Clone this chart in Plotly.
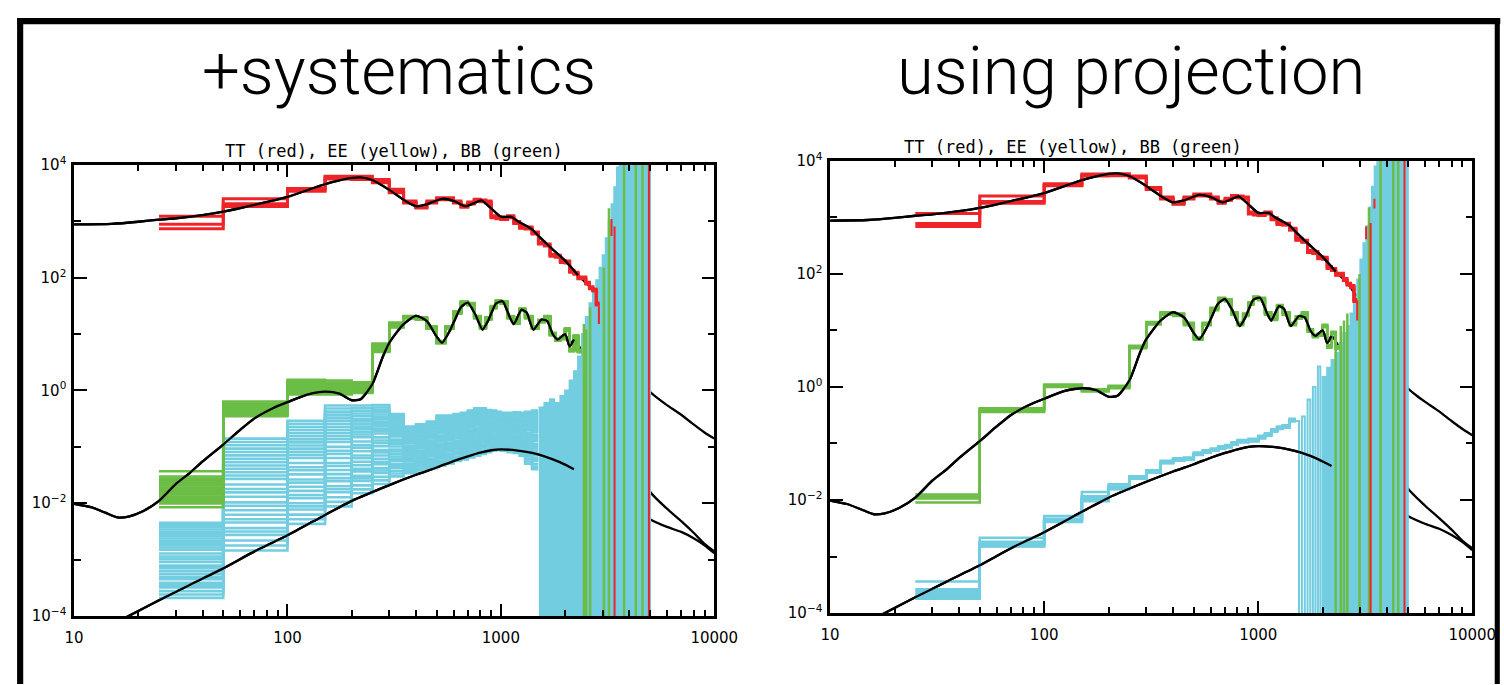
import plotly.graph_objects as go

W, H = 1504, 685          # size of the picture
S = 0.979                 # picture pixels per page pixel (measured from earlier renders)
OFF = 8                   # default body margin of the page around the figure
FW, FH = 1528, 684        # figure size in page pixels

# ---------------- data ----------------
ell_edges = [25, 50, 100, 150, 200, 250, 300, 350, 400, 450, 500, 550, 600, 650, 700,
             750, 800, 850, 900, 950, 1000, 1075, 1150, 1225, 1300, 1400, 1500, 1600,
             1700, 1800, 1900, 2000, 2100, 2200, 2300, 2400, 2500, 2600, 2700, 2800, 2900]

tt_binned = [850, 2050, 3800, 5650, 5700, 5200, 3250, 2200, 1780, 2200, 2500, 2500, 2200,
             1850, 2100, 2350, 2300, 2200, 1200, 1150, 1120, 1200, 950, 780, 760, 620, 410,
             380, 250, 240, 193, 190, 130, 120, 99, 99, 80, 66, 60, 34]
ee_binned = [0.0115, 0.39, 1.05, 0.87, 1.0, 5.1, 13.4, 20, 19, 13, 7.2, 13, 24, 36, 34, 20,
             13, 19, 30, 38, 36, 20, 16, 27, 20, 13, 17, 20, 10, 8, 8.5, 12, 5.2, 9, 5]
bb_binned_proj = [1.8e-4, 1.8e-3, 4.6e-3, 0.0115, 0.017, 0.025, 0.032, 0.047, 0.052, 0.054,
                  0.066, 0.072, 0.078, 0.085, 0.09, 0.10, 0.11, 0.11, 0.115, 0.115, 0.13,
                  0.145, 0.17, 0.19, 0.2, 0.26]

# spread of the realisations, +systematics panel
tt_sys_lo = [740, 1830, 3400, 5600, 5500, 4800, 3200]
tt_sys_hi = [1230, 2500, 3800, 6300, 6300, 5500, 3700]
ee_sys_lo = [0.0085, 0.35, 0.85, 0.85, 0.9, 4.8, 13]
ee_sys_hi = [0.037, 0.64, 1.55, 1.5, 1.4, 6.8, 16]
bb_sys_lo = [2.1e-4, 1.45e-3, 4.3e-3, 8.8e-3, 0.015, 0.022, 0.030, 0.034, 0.038, 0.042,
             0.047, 0.051, 0.056, 0.060, 0.065, 0.070, 0.075, 0.080, 0.085, 0.088, 0.085,
             0.080, 0.078, 0.070, 0.050, 0.040]
bb_sys_hi = [4.5e-3, 0.14, 0.29, 0.54, 0.54, 0.55, 0.38, 0.23, 0.25, 0.28, 0.36, 0.36, 0.38,
             0.40, 0.44, 0.48, 0.48, 0.45, 0.44, 0.42, 0.40, 0.40, 0.41, 0.40, 0.42, 0.44]

# spread of the realisations, projection panel
tt_proj_lo = [690, 1780, 3650]
tt_proj_hi = [1170, 2400, 3950]
ee_proj_lo = [0.009, 0.36]
ee_proj_hi = [0.0125, 0.42]
bb_proj_lo = [1.8e-4, 1.5e-3, 4.1e-3, 9.5e-3, 0.0155]
bb_proj_hi = [3.6e-4, 2.15e-3, 5.2e-3, 0.0138, 0.019]

tt_scatter = 1.04
ee_scatter = 1.05
bb_scatter = 1.05

# relative position of each realisation inside the spread (0 = lowest, 1 = highest)
tt_levels_sys = [1.0, 0.35, 0.0]
ee_levels_sys = [1.0, 0.85, 0.8, 0.75, 0.7, 0.65, 0.6, 0.55, 0.5, 0.45, 0.4, 0.35, 0.3,
                 0.25, 0.2, 0.15, 0.1, 0.0]
bb_levels_sys = [1.0, 0.97, 0.94, 0.91, 0.88, 0.85, 0.82, 0.79, 0.76, 0.73, 0.70, 0.67,
                 0.64, 0.59, 0.55, 0.52, 0.48, 0.43, 0.40, 0.36, 0.32, 0.28, 0.25, 0.20,
                 0.17, 0.14, 0.09, 0.045, 0.0]
tt_levels_proj = [1.0, 0.23, 0.0]
ee_levels_proj = [1.0, 0.75, 0.5, 0.0]
bb_levels_proj = [1.0, 0.55, 0.45, 0.35, 0.25, 0.15, 0.05, 0.0]

# noise-dominated high-ell region: upper envelope of BB realisations per 100-wide chunk
noise_chunk_start = [1500, 1600, 1700, 1800, 1900, 2000, 2100, 2200, 2300, 2400, 2500, 2600,
                     2700, 2800, 2900, 3000, 3100, 3200, 3300, 3400, 3500, 3600, 3700, 3800,
                     3900, 4000, 4100, 4200, 4300, 4400, 4500, 4600, 4700, 4800, 4900]
bb_noise_top_sys = [0.5, 0.6, 0.7, 0.6, 0.8, 1.0, 1.5, 2.2, 4, 10, 20, 35, 60, 90, 150, 250,
                    500, 1000, 2000, 4000, 9000, 1e9, 1e9, 1e9, 1e9, 1e9, 1e9, 1e9, 1e9,
                    1e9, 1e9, 1e9, 1e9, 1e9, 1e9]
bb_noise_top_proj = [0.25, 0.3, 0.6, 1.0, 2.3, 1.5, 2.2, 3, 4, 6, 9, 12, 20, 40, 80, 180,
                     350, 700, 1500, 3500, 8000, 1e9, 1e9, 1e9, 1e9, 1e9, 1e9, 1e9, 1e9,
                     1e9, 1e9, 1e9, 1e9, 1e9, 1e9]
noise_dense_from_sys = 1500     # above this ell the noisy bins are 25 wide, below 50
noise_dense_from_proj = 2000

# individual spikes (ell, top, bottom; bottom 0 = runs off the bottom)
ee_spike_l_sys = [2450, 2510, 2620, 3040, 3210, 3780, 4290, 4610]
ee_spike_top_sys = [15, 12, 30, 150, 1700, 1e9, 1e9, 1e9]
ee_spike_bot_sys = [0, 0, 0, 0, 0, 0, 0, 0]
tt_spike_l_sys = [2880, 3300, 3410, 4940]
tt_spike_top_sys = [31, 1100, 810, 1e9]
tt_spike_bot_sys = [15, 550, 0, 0]
ee_spike_l_proj = [2300, 2430, 2515, 2608, 2974, 3290, 3728, 4273, 4508]
ee_spike_top_proj = [5, 12, 15, 20, 100, 1500, 1e9, 1e9, 1e9]
ee_spike_bot_proj = [0, 0, 0, 0, 0, 0, 0, 0, 0]
tt_spike_l_proj = [2900, 3190, 3350, 3490, 4823]
tt_spike_top_proj = [34, 690, 800, 2140, 1e9]
tt_spike_bot_proj = [15, 410, 0, 1440, 0]

# theory curves
tt_th_l = [10, 15, 20, 25, 30, 40, 50, 70, 100, 130, 160, 200, 220, 250, 300, 350, 400, 450,
           530, 600, 680, 750, 810, 900, 1000, 1120, 1200, 1300, 1400, 1500, 1700, 2000,
           2300, 2600, 3000, 3500, 4000, 4500, 5000, 5500, 6000, 7000, 8000, 9000, 10000]
tt_th = [880, 900, 980, 1070, 1130, 1290, 1480, 1950, 2700, 3800, 4900, 5900, 6000, 5400,
         3600, 2400, 1850, 2000, 2500, 2300, 1850, 2100, 2350, 1700, 1200, 1200, 1000, 850,
         720, 550, 350, 200, 110, 70, 30, 8, 3, 1.6, 0.95, 0.7, 0.55, 0.37, 0.25, 0.18, 0.14]
ee_th_l = [10, 12, 14, 16, 18, 21, 25, 30, 35, 40, 50, 60, 70, 85, 100, 125, 150, 175, 200,
           220, 250, 280, 300, 350, 400, 450, 500, 530, 580, 650, 700, 760, 820, 870, 950,
           1020, 1100, 1150, 1250, 1320, 1420, 1550, 1650, 1750, 1850, 2000, 2100, 2200,
           2400, 2600, 3000, 3500, 4000, 4500, 5000, 6000, 7000, 8000, 9000, 10000]
ee_th = [0.0098, 0.0085, 0.0068, 0.0056, 0.0058, 0.0072, 0.011, 0.022, 0.035, 0.055, 0.11,
         0.2, 0.32, 0.48, 0.62, 0.85, 0.95, 0.88, 0.67, 0.7, 1.3, 4, 7, 15, 21, 17, 9, 7, 12,
         30, 36, 22, 12, 17, 35, 38, 20, 15, 27, 24, 12, 18, 17, 10, 8, 10, 6, 8, 5, 3.5,
         1.5, 0.4, 0.12, 0.04, 0.016, 0.008, 0.0048, 0.003, 0.0019, 0.0014]
bb_th_l = [15, 18, 25, 35, 50, 70, 100, 150, 200, 300, 400, 500, 600, 700, 800, 900, 1000,
           1200, 1400, 1600, 1900, 2200, 2600, 3000, 4000, 5000, 6000, 7000, 8000, 9000, 10000]
bb_th = [7.2e-5, 1.0e-4, 1.9e-4, 3.6e-4, 7e-4, 1.4e-3, 2.7e-3, 6.2e-3, 0.011, 0.021, 0.032,
         0.043, 0.056, 0.068, 0.079, 0.087, 0.09, 0.086, 0.078, 0.068, 0.053, 0.04, 0.028,
         0.02, 0.01, 0.0052, 0.0038, 0.0031, 0.0024, 0.0018, 0.0013]

x_ticks = [10, 100, 1000, 10000]
x_ticktext = ["10", "100", "1000", "10000"]
x_minor = [20, 30, 40, 50, 60, 70, 80, 90, 200, 300, 400, 500, 600, 700, 800, 900,
           2000, 3000, 4000, 5000, 6000, 7000, 8000, 9000]
y_ticks = [1e-4, 1e-2, 1, 1e2, 1e4]
y_ticktext = ["10<sup>\u22124</sup>", "10<sup>\u22122</sup>", "10<sup>0</sup>",
              "10<sup>2</sup>", "10<sup>4</sup>"]
y_minor = [1e-3, 1e-1, 10, 1e3]

panel_titles = ["+systematics", "using projection"]
sub_title = "TT (red), EE (yellow), BB (green)"

# ---------------- styles ----------------
FLOOR, CEIL = 1e-9, 1e9
RED = "#EE2428"
GREEN = "#6BBD45"
CYAN = "#71CDDF"
BLACK = "#000000"


def px(x):      # picture x pixel -> paper fraction
    return (x / S - OFF) / FW


def py(y):      # picture y pixel (from top) -> paper fraction
    return 1 - (y / S - OFF) / FH


def sz(v):      # picture pixels -> page pixels
    return v / S


fig = go.Figure()


def axes_of(col):
    return ("x", "y") if col == 1 else ("x2", "y2")


def full_band(mid, lo_exp, hi_exp, scatter, n):
    lo = list(lo_exp) + [m / scatter for m in mid[len(lo_exp):n]]
    hi = list(hi_exp) + [m * scatter for m in mid[len(hi_exp):n]]
    return lo[:n], hi[:n]


def add_steps(lo, hi, levels, color, width, col):
    xs, ys = [], []
    n = len(lo)
    for lev in levels:
        vals = [a * (b / a) ** lev for a, b in zip(lo, hi)]
        xs += ell_edges[:n + 1] + [None]
        ys += vals + [vals[-1], None]
    xa, ya = axes_of(col)
    fig.add_trace(go.Scatter(x=xs, y=ys, mode="lines", line=dict(color=color, width=width, shape="hv"),
                             connectgaps=False, xaxis=xa, yaxis=ya, hoverinfo="skip"))


def add_noise(tops, dense_from, color, width, col):
    xs, ys = [], []
    for l0, t in zip(noise_chunk_start, tops):
        step = 25 if l0 >= dense_from else 50
        s = l0
        while s < l0 + 100:
            xs += [s, s + step]
            ys += [t, FLOOR]
            s += 2 * step
    xs.append(5000)
    ys.append(CEIL)
    xa, ya = axes_of(col)
    fig.add_trace(go.Scatter(x=xs, y=ys, mode="lines", line=dict(color=color, width=width, shape="hv"),
                             xaxis=xa, yaxis=ya, hoverinfo="skip"))


def add_spikes(ls, tops, bots, color, width, col):
    xs, ys = [], []
    for l, t, b in zip(ls, tops, bots):
        xs += [l, l, None]
        ys += [b if b > 0 else FLOOR, t, None]
    xa, ya = axes_of(col)
    fig.add_trace(go.Scatter(x=xs, y=ys, mode="lines", line=dict(color=color, width=width),
                             connectgaps=False, xaxis=xa, yaxis=ya, hoverinfo="skip"))


def add_theory(col, lmax=None, width=2.3):
    xa, ya = axes_of(col)
    for ls, vs in ((tt_th_l, tt_th), (ee_th_l, ee_th), (bb_th_l, bb_th)):
        pts = [(l, v) for l, v in zip(ls, vs) if lmax is None or l <= lmax]
        fig.add_trace(go.Scatter(x=[p[0] for p in pts], y=[p[1] for p in pts], mode="lines",
                                 line=dict(color=BLACK, width=width, shape="spline", smoothing=0.6),
                                 xaxis=xa, yaxis=ya, hoverinfo="skip"))


n_tt, n_ee, n_bb = len(tt_binned), len(ee_binned), len(bb_binned_proj)

# ---- left: +systematics ----
add_theory(1)
add_steps(bb_sys_lo, bb_sys_hi, bb_levels_sys, CYAN, 2.6, 1)
add_noise(bb_noise_top_sys, noise_dense_from_sys, CYAN, 2, 1)
lo, hi = full_band(ee_binned, ee_sys_lo, ee_sys_hi, ee_scatter, n_ee)
add_steps(lo, hi, ee_levels_sys, GREEN, 2.5, 1)
add_spikes(ee_spike_l_sys, ee_spike_top_sys, ee_spike_bot_sys, GREEN, 2.5, 1)
lo, hi = full_band(tt_binned, tt_sys_lo, tt_sys_hi, tt_scatter, n_tt)
add_steps(lo, hi, tt_levels_sys, RED, 3, 1)
add_spikes(tt_spike_l_sys, tt_spike_top_sys, tt_spike_bot_sys, RED, 2, 1)
add_theory(1, lmax=2300)

# ---- right: using projection ----
add_theory(2)
lo, hi = full_band(bb_binned_proj, bb_proj_lo, bb_proj_hi, bb_scatter, n_bb)
add_steps(lo, hi, bb_levels_proj, CYAN, 2.5, 2)
add_noise(bb_noise_top_proj, noise_dense_from_proj, CYAN, 2, 2)
lo, hi = full_band(ee_binned, ee_proj_lo, ee_proj_hi, ee_scatter, n_ee)
add_steps(lo, hi, ee_levels_proj, GREEN, 2.5, 2)
add_spikes(ee_spike_l_proj, ee_spike_top_proj, ee_spike_bot_proj, GREEN, 2.5, 2)
lo, hi = full_band(tt_binned, tt_proj_lo, tt_proj_hi, tt_scatter, n_tt)
add_steps(lo, hi, tt_levels_proj, RED, 3, 2)
add_spikes(tt_spike_l_proj, tt_spike_top_proj, tt_spike_bot_proj, RED, 2, 2)
add_theory(2, lmax=2300)

tick_font = dict(family="DejaVu Sans", size=15, color=BLACK)
xbase = dict(type="log", range=[1, 4], showline=True, linecolor=BLACK, linewidth=2.5,
             mirror="allticks", ticks="inside", ticklen=12, tickwidth=2, tickcolor=BLACK,
             tickmode="array", tickvals=x_ticks, ticktext=x_ticktext, showgrid=False,
             zeroline=False, tickfont=tick_font, ticklabelstandoff=6,
             minor=dict(ticks="inside", ticklen=6, tickwidth=1.5, tickcolor=BLACK,
                        tickmode="array", tickvals=x_minor, showgrid=False))
ybase = dict(type="log", range=[-4, 4], showline=True, linecolor=BLACK, linewidth=2.5,
             mirror="allticks", ticks="inside", ticklen=13, tickwidth=2, tickcolor=BLACK,
             tickmode="array", tickvals=y_ticks, ticktext=y_ticktext, showgrid=False,
             zeroline=False, tickfont=tick_font, ticklabelstandoff=2,
             minor=dict(ticks="inside", ticklen=7, tickwidth=2, tickcolor=BLACK,
                        tickmode="array", tickvals=y_minor, showgrid=False))

fig.update_layout(
    width=FW, height=FH, margin=dict(l=0, r=0, t=0, b=0),
    paper_bgcolor="white", plot_bgcolor="white", showlegend=False,
    xaxis=dict(xbase, domain=[px(72), px(713)], anchor="y"),
    yaxis=dict(ybase, domain=[py(618), py(163)], anchor="x"),
    xaxis2=dict(xbase, domain=[px(829), px(1472)], anchor="y2"),
    yaxis2=dict(ybase, domain=[py(615), py(159)], anchor="x2"),
)

big_font = dict(family="Roboto", size=67, color=BLACK, weight=300)
small_font = dict(family="DejaVu Sans Mono", size=17, color=BLACK)
for txt, cx in zip(panel_titles, [397, 1130]):
    fig.add_annotation(text=txt, x=px(cx), y=py(68), xref="paper", yref="paper",
                       showarrow=False, xanchor="center", yanchor="middle", font=big_font)
for cx, cy in [(392, 149), (1072, 145)]:
    fig.add_annotation(text=sub_title, x=px(cx), y=py(cy), xref="paper", yref="paper",
                       showarrow=False, xanchor="center", yanchor="middle", font=small_font)

# outer frame
fig.add_shape(type="line", xref="paper", yref="paper", x0=px(18), x1=px(18), y0=-0.1, y1=py(15),
              line=dict(color=BLACK, width=sz(6)))
fig.add_shape(type="line", xref="paper", yref="paper", x0=px(15), x1=px(1500), y0=py(18),
              y1=py(18), line=dict(color=BLACK, width=sz(6)))
fig.add_shape(type="line", xref="paper", yref="paper", x0=px(1497), x1=px(1497), y0=-0.1,
              y1=py(15), line=dict(color=BLACK, width=sz(5)))

fig.write_html("out.html")
